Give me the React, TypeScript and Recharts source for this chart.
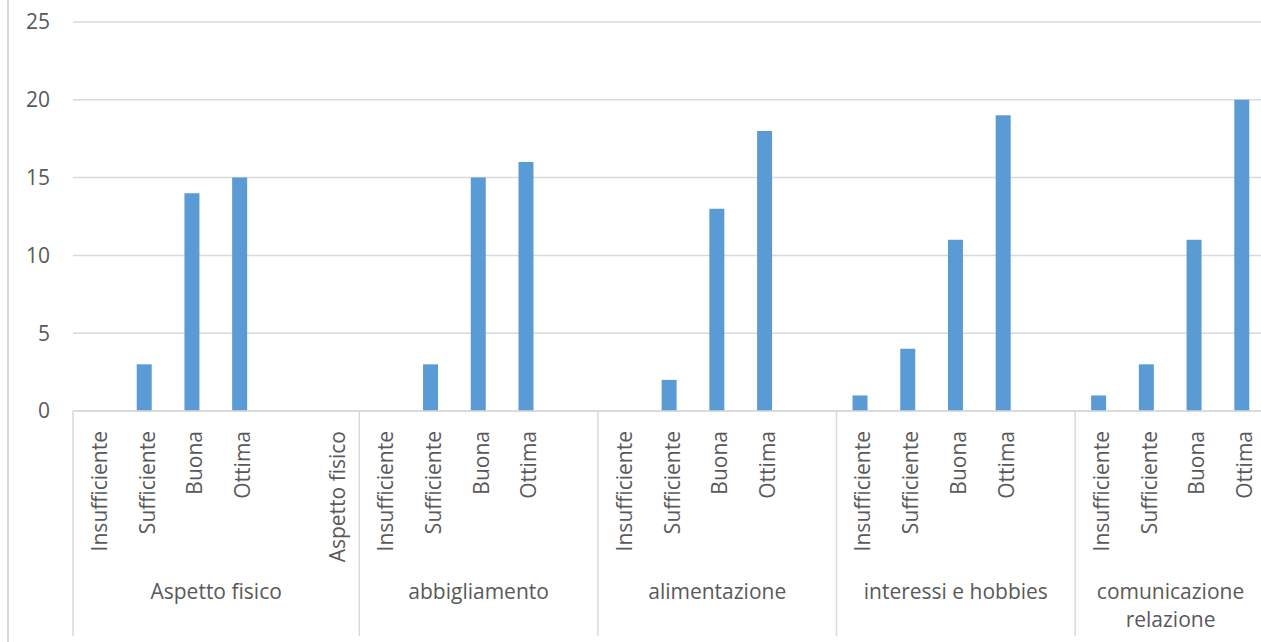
import { BarChart, Bar, XAxis, YAxis, CartesianGrid } from 'recharts'

// group labels (second level of the category axis), already split into lines
const groupLabels = [
  ['Aspetto fisico'],
  ['abbigliamento'],
  ['alimentazione'],
  ['interessi e hobbies'],
  ['comunicazione', 'relazione']
]

const aspettoLabels = ['Insufficiente', 'Sufficiente', 'Buona', 'Ottima', '', 'Aspetto fisico']
const aspettoValues = [0, 3, 14, 15, 0, 0]

const abbigliamentoLabels = ['Insufficiente', 'Sufficiente', 'Buona', 'Ottima', '']
const abbigliamentoValues = [0, 3, 15, 16, 0]

const alimentazioneLabels = ['Insufficiente', 'Sufficiente', 'Buona', 'Ottima', '']
const alimentazioneValues = [0, 2, 13, 18, 0]

const hobbiesLabels = ['Insufficiente', 'Sufficiente', 'Buona', 'Ottima', '']
const hobbiesValues = [1, 4, 11, 19, 0]

const comunicazioneLabels = ['Insufficiente', 'Sufficiente', 'Buona', 'Ottima']
const comunicazioneValues = [1, 3, 11, 20]

const yTicks = [0, 5, 10, 15, 20, 25]

const groupCats = [aspettoLabels, abbigliamentoLabels, alimentazioneLabels, hobbiesLabels, comunicazioneLabels]
const groupVals = [aspettoValues, abbigliamentoValues, alimentazioneValues, hobbiesValues, comunicazioneValues]

interface Riga {
  id: string
  label: string
  value: number
  group: number
  pos: number
}

const data: Riga[] = []
groupCats.forEach((cats, g) => {
  cats.forEach((label, p) => {
    data.push({ id: `${g}-${p}`, label, value: groupVals[g][p], group: g, pos: p })
  })
})

// layout
const CHART_W = 1266
const CHART_H = 642
const MARGIN = { top: 22, right: 0, bottom: 5, left: 13 }
const Y_AXIS_W = 60
const PLOT_LEFT = MARGIN.left + Y_AXIS_W
const BAND = (CHART_W - PLOT_LEFT - MARGIN.right) / data.length
const X_AXIS_H = 226

const TEXT = '#595959'
const GRID = '#D9D9D9'
const FONT = '"Open Sans", "DejaVu Sans", sans-serif'
const FS = 21

function CategoryTick(props: any) {
  const { x, y, payload } = props
  const i = props.index ?? payload.index
  const item = data[i]
  if (!item) return null
  const size = groupCats[item.group].length
  const isFirst = item.pos === 0
  const isLastAll = i === data.length - 1
  const center = (size - 1) / 2
  const anchor = Math.floor(center)
  const shift = (center - anchor) * BAND
  const lines = groupLabels[item.group]

  return (
    <g>
      {isFirst && (
        <line x1={x - BAND / 2} x2={x - BAND / 2} y1={y} y2={y + X_AXIS_H - 1} stroke={GRID} strokeWidth={1.5} />
      )}
      {isLastAll && (
        <line x1={x + BAND / 2} x2={x + BAND / 2} y1={y} y2={y + X_AXIS_H - 1} stroke={GRID} strokeWidth={1.5} />
      )}
      {item.label && (
        <text
          x={0}
          y={0}
          transform={`translate(${x + 10}, ${y + 20}) rotate(-90)`}
          textAnchor="end"
          fill={TEXT}
          fontSize={FS}
          fontFamily={FONT}
        >
          {item.label}
        </text>
      )}
      {item.pos === anchor && (
        <text x={x + shift} y={y + 188} textAnchor="middle" fill={TEXT} fontSize={FS} fontFamily={FONT}>
          {lines.map((ln, k) => (
            <tspan key={k} x={x + shift} dy={k === 0 ? 0 : 28}>
              {ln}
            </tspan>
          ))}
        </text>
      )}
    </g>
  )
}

export default function App() {
  return (
    <div
      style={{
        position: 'absolute',
        left: 0,
        top: 0,
        width: 1261,
        height: 642,
        overflow: 'hidden',
        background: '#fff'
      }}
    >
      <div style={{ position: 'absolute', left: 7, top: 0, width: 0, height: 642, borderLeft: `2px solid ${GRID}` }} />
      <BarChart width={CHART_W} height={CHART_H} data={data} margin={MARGIN}>
        <CartesianGrid vertical={false} stroke={GRID} strokeWidth={1.5} />
        <XAxis
          dataKey="id"
          interval={0}
          height={X_AXIS_H}
          tickSize={0}
          tickMargin={0}
          tickLine={false}
          axisLine={{ stroke: GRID, strokeWidth: 1.5 }}
          tick={(p: any) => <CategoryTick {...p} />}
        />
        <YAxis
          width={Y_AXIS_W}
          domain={[0, 25]}
          ticks={yTicks}
          axisLine={false}
          tickLine={false}
          tickSize={0}
          tickMargin={23}
          tick={{ fill: TEXT, fontSize: FS, fontFamily: FONT }}
        />
        <Bar dataKey="value" fill="#5B9BD5" barSize={15} isAnimationActive={false} />
      </BarChart>
    </div>
  )
}
